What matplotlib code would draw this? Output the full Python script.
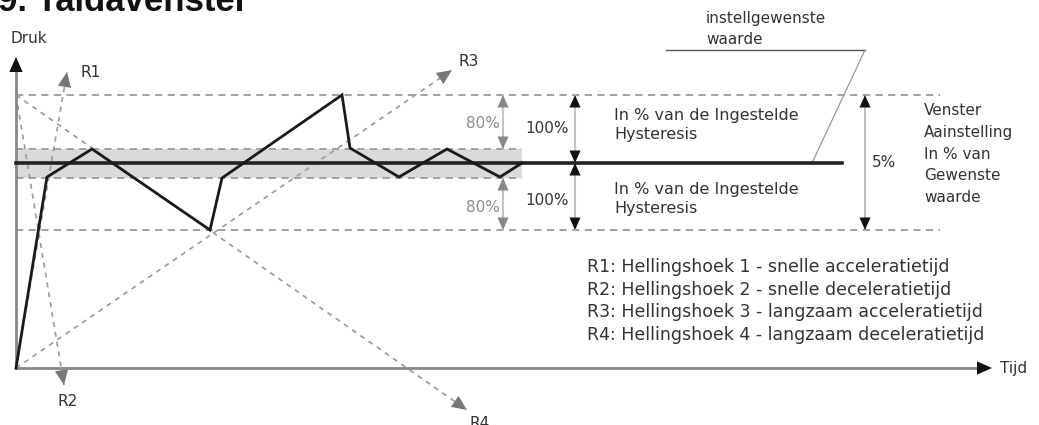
import matplotlib
matplotlib.use("Agg")
import matplotlib.pyplot as plt

# ---------------- data (time / pressure units, origin at axis crossing) ----------------
curve_t = [0, 31, 76, 194, 206, 326, 334, 383, 431, 484, 506]
curve_p = [0, 191, 219, 138, 190, 273, 220, 191, 219, 191, 205]

setpoint = 205
band_low, band_high = 190, 219
band_end = 506
window_low, window_high = 138, 273
window_end = 924
setpoint_end = 826

ramp_names = ["R1", "R2", "R3", "R4"]
ramp_start_t = [0, 0, 0, 0]
ramp_start_p = [0, 273, 0, 273]
ramp_end_t = [51, 48, 436, 451]
ramp_end_p = [296, -17, 298, -42]

legend_lines = [
    "R1: Hellingshoek 1 - snelle acceleratietijd",
    "R2: Hellingshoek 2 - snelle deceleratietijd",
    "R3: Hellingshoek 3 - langzaam acceleratietijd",
    "R4: Hellingshoek 4 - langzaam deceleratietijd",
]

# ---------------- figure ----------------
W, H = 1039, 425
ox, oy = 16, 368  # origin in pixels
fig = plt.figure(figsize=(W / 100, H / 100), dpi=100)
ax = fig.add_axes([0, 0, 1, 1])
ax.set_xlim(-ox, W - ox)
ax.set_ylim(oy - H, oy)
ax.axis("off")

FONT = "DejaVu Sans"
TXT = "#333333"
GREY = "#9a9a9a"


def head(x0, y0, x1, y1, color, scale=10):
    ax.annotate("", xy=(x1, y1), xytext=(x0, y0),
                arrowprops=dict(arrowstyle="-|>,head_length=0.9,head_width=0.4",
                                color=color, lw=0, shrinkA=0, shrinkB=0,
                                mutation_scale=scale))


# band
ax.fill_between([0, band_end], band_low, band_high, color="#dadada", lw=0, zorder=1)
for lvl in (band_low, band_high):
    ax.plot([0, band_end], [lvl, lvl], ls=(0, (4, 3)), color=GREY, lw=1.3, zorder=2)

# window lines
for lvl in (window_low, window_high):
    ax.plot([0, window_end], [lvl, lvl], ls=(0, (4, 3)), color=GREY, lw=1.3, zorder=2)

# setpoint
ax.plot([0, setpoint_end], [setpoint, setpoint], color="#222222", lw=2.6, zorder=4)

# ramps
for name, t0, p0, t1, p1 in zip(ramp_names, ramp_start_t, ramp_start_p, ramp_end_t, ramp_end_p):
    ax.plot([t0, t1], [p0, p1], ls=(0, (3, 3)), color=GREY, lw=1.2, zorder=2)
    f = 0.97
    head(t0 + (t1 - t0) * f, p0 + (p1 - p0) * f, t1, p1, "#777777", 12)

ax.text(64, 296, "R1", fontsize=11, color=TXT, family=FONT, va="center", ha="left")
ax.text(52, -34, "R2", fontsize=11, color=TXT, family=FONT, va="center", ha="center")
ax.text(442, 307, "R3", fontsize=11, color=TXT, family=FONT, va="center", ha="left")
ax.text(464, -55, "R4", fontsize=11, color=TXT, family=FONT, va="center", ha="center")

# response curve
ax.plot(curve_t, curve_p, color="#1a1a1a", lw=2.0, zorder=5, solid_joinstyle="miter")

# axes
ax.plot([0, 0], [0, 305], color="#888888", lw=2, zorder=3)
head(0, 300, 0, 311, "#111111", 12)
ax.plot([0, 965], [0, 0], color="#888888", lw=2, zorder=3)
head(960, 0, 976, 0, "#111111", 12)
ax.text(-6, 330, "Druk", fontsize=11, color=TXT, family=FONT, va="center", ha="left")
ax.text(984, 0, "Tijd", fontsize=11, color=TXT, family=FONT, va="center", ha="left")

# 80% arrows
x80 = 487
ax.plot([x80, x80], [window_high, band_high], color="#c4c4c4", lw=1.5, zorder=3)
head(x80, window_high - 5, x80, window_high, "#888888")
head(x80, band_high + 5, x80, band_high, "#888888")
ax.plot([x80, x80], [band_low, window_low], color="#c4c4c4", lw=1.5, zorder=3)
head(x80, band_low - 5, x80, band_low, "#888888")
head(x80, window_low + 5, x80, window_low, "#888888")
ax.text(x80 - 3, 245, "80%", fontsize=11, color="#8a8a8a", family=FONT, va="center", ha="right")
ax.text(x80 - 3, 161, "80%", fontsize=11, color="#8a8a8a", family=FONT, va="center", ha="right")

# 100% arrows
x100 = 559
ax.plot([x100, x100], [window_high, window_low], color="#c4c4c4", lw=1.5, zorder=3)
head(x100, window_high - 5, x100, window_high, "#111111")
head(x100, setpoint + 5, x100, setpoint, "#111111")
head(x100, setpoint - 5, x100, setpoint, "#111111")
head(x100, window_low + 5, x100, window_low, "#111111")
ax.text(x100 - 6, 240, "100%", fontsize=11, color=TXT, family=FONT, va="center", ha="right")
ax.text(x100 - 6, 168, "100%", fontsize=11, color=TXT, family=FONT, va="center", ha="right")

hyst = "In % van de Ingestelde\nHysteresis"
ax.text(598, 243, hyst, fontsize=11.5, color=TXT, family=FONT, va="center", ha="left", linespacing=1.4)
ax.text(598, 169, hyst, fontsize=11.5, color=TXT, family=FONT, va="center", ha="left", linespacing=1.4)

# 5% arrow
x5 = 849
ax.plot([x5, x5], [window_high, window_low], color="#b0b0b0", lw=1.2, zorder=3)
head(x5, window_high - 5, x5, window_high, "#111111")
head(x5, window_low + 5, x5, window_low, "#111111")
ax.text(856, 206, "5%", fontsize=11, color=TXT, family=FONT, va="center", ha="left")
ax.text(908, 214, "Venster\nAainstelling\nIn % van\nGewenste\nwaarde", fontsize=11,
        color=TXT, family=FONT, va="center", ha="left", linespacing=1.56)

# setpoint label and leader
ax.text(690, 339, "instellgewenste\nwaarde", fontsize=11, color=TXT, family=FONT,
        va="center", ha="left", linespacing=1.5)
ax.plot([650, 849], [318, 318], color="#555555", lw=1.0, zorder=3)
ax.plot([849, 796], [318, setpoint], color="#999999", lw=0.9, zorder=3)

# legend text
ax.text(571, 67, "\n".join(legend_lines), fontsize=12.5, color=TXT, family=FONT,
        va="center", ha="left", linespacing=1.33)

# clipped title
ax.text(-18, 357, "9. Taldavenster", fontsize=25, fontweight="bold", color="#111111",
        family="Liberation Sans", va="baseline", ha="left")

fig.savefig("out.png", dpi=100)
